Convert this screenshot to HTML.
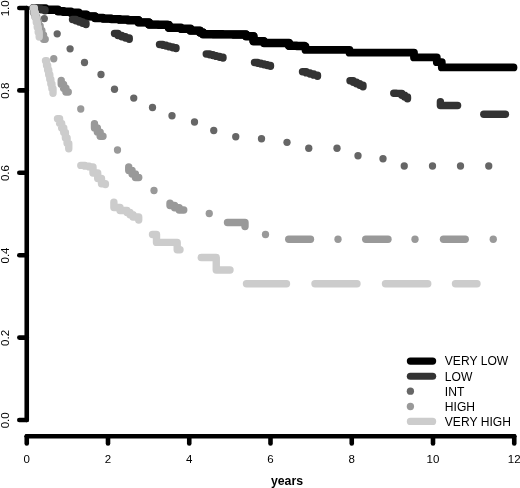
<!DOCTYPE html>
<html><head><meta charset="utf-8"><title>Survival curves</title>
<style>html,body{margin:0;padding:0;background:#fff}body{width:520px;height:488px;overflow:hidden}svg{display:block}text{font-family:"Liberation Sans",Arial,Helvetica,sans-serif;fill:#000}</style></head><body>
<svg width="520" height="488" viewBox="0 0 520 488">
<rect width="520" height="488" fill="#fff"/>
<defs><clipPath id="c"><rect x="0" y="4.4" width="520" height="484"/></clipPath></defs>
<g clip-path="url(#c)" fill="none" stroke-linecap="round" stroke-linejoin="round">
<path d="M33.4 8 L45 8 L45 9.8 L58 9.8 L58 11.2 L63.5 11.2 L63.5 11.8 L71 11.8 L71 12.8 L78.75 12.8 L78.75 14.6 L86.5 14.6 L86.5 16.4 L95 16.4 L95 18 L103 18 L103 18.6 L111.333 18.6 L111.333 19.1333 L119.667 19.1333 L119.667 19.6667 L128 19.6667 L128 20.2 L138.5 20.2 L138.5 22.4 L149 22.4 L149 24.6 L158.25 24.6 L158.25 24.8 L167.5 24.8 L167.5 25 L168.8 25 L168.8 27.8 L181 27.8 L181 28.8 L190.5 28.8 L190.5 30.65 L200 30.65 L200 32.5 L203 32.5 L203 34.2 L213 34.2 L213 34.3 L223 34.3 L223 34.4 L233 34.4 L233 34.5 L246 34.5 L246 36.2 L253.5 36.2 L253.5 41.2 L262 41.2 L262 41.3 L264 41.3 L264 43 L281.5 43 L289 43 L289 45.8 L296.75 45.8 L296.75 46.05 L304.5 46.05 L304.5 46.3 L305.5 46.3 L305.5 49.9 L348 49.9 L349.5 49.9 L349.5 52.7 L413 52.7 L414 52.7 L414 57.4 L436 57.4 L436.8 57.4 L436.8 62.2 L441 62.2 L441.8 62.2 L441.8 67.4 L513.5 67.4" stroke="#000" stroke-width="7.8"/>
<path d="M33.4 8 L45 8 L45 9.8 L58 9.8 L58 11.2 L63.5 11.2 L63.5 11.8 L71 11.8 L71 12.8 L78.75 12.8 L78.75 14.6 L86.5 14.6 L86.5 16.4 L95 16.4 L95 18 L103 18 L103 18.6 L111.333 18.6 L111.333 19.1333 L119.667 19.1333 L119.667 19.6667 L128 19.6667 L128 20.2 L138.5 20.2 L138.5 22.4 L149 22.4 L149 24.6 L158.25 24.6 L158.25 24.8 L167.5 24.8 L167.5 25 L168.8 25 L168.8 27.8 L181 27.8 L181 28.8 L190.5 28.8 L190.5 30.65 L200 30.65 L200 32.5 L203 32.5 L203 34.2 L213 34.2 L213 34.3 L223 34.3 L223 34.4 L233 34.4 L233 34.5 L246 34.5 L246 36.2 L253.5 36.2 L253.5 41.2 L262 41.2 L262 41.3 L264 41.3 L264 43 L281.5 43 L289 43 L289 45.8 L296.75 45.8 L296.75 46.05 L304.5 46.05 L304.5 46.3" stroke="#000" stroke-width="8.4"/>
<g stroke="#333333" stroke-width="7.4">
<path d="M33.4 8 L37.2667 8 L37.2667 8.9 L41.1333 8.9 L41.1333 9.8 L45 9.8 L45 10.7"/>
<path d="M72.5 19.5 L75.875 19.5 L75.875 20.75 L79.25 20.75 L79.25 22 L82.625 22 L82.625 23.25 L86 23.25 L86 24.5"/>
<path d="M114.5 33.5 L118 33.5 L118 35.5 L121.75 35.5 L121.75 36.75 L125.5 36.75 L125.5 38 L129.25 38 L129.25 39.25"/>
<path d="M159.5 44.5 L162.8 44.5 L162.8 45.3 L166.1 45.3 L166.1 46.1 L169.4 46.1 L169.4 46.9 L172.7 46.9 L172.7 47.7 L176 47.7 L176 48.5"/>
<path d="M206.25 54 L209.6 54 L209.6 54.8 L212.95 54.8 L212.95 55.6 L216.3 55.6 L216.3 56.4 L219.65 56.4 L219.65 57.2 L223 57.2 L223 58"/>
<path d="M254.5 62.5 L257.7 62.5 L257.7 63.25 L260.9 63.25 L260.9 64 L264.1 64 L264.1 64.75 L267.3 64.75 L267.3 65.5 L270.5 65.5 L270.5 66.25"/>
<path d="M302.5 71.75 L306.25 71.75 L306.25 72.875 L310 72.875 L310 74 L313.75 74 L313.75 75.125 L317.5 75.125 L317.5 76.25"/>
<path d="M350 80.75 L353.25 80.75 L353.25 82.25 L356.5 82.25 L356.5 83.75 L359.75 83.75 L359.75 85.25 L363 85.25 L363 86.75"/>
<path d="M393.75 93.25 L396.375 93.25 L396.375 93.375 L399 93.375 L399 93.5 L401.833 93.5 L401.833 95.25 L404.667 95.25 L404.667 97 L407.5 97 L407.5 98.75"/>
<path d="M440.4 101.7 L440.4 105.5 L457.6 105.5"/>
<path d="M483.8 114.2 L505.4 114.2"/>
</g>
<g fill="#666666" stroke="none">
<circle cx="44.3" cy="18.6" r="3.65"/>
<circle cx="57.2" cy="33.8" r="3.65"/>
<circle cx="70.1" cy="48.8" r="3.65"/>
<circle cx="84.5" cy="62.5" r="3.65"/>
<circle cx="101" cy="74.5" r="3.65"/>
<circle cx="114.5" cy="89.25" r="3.65"/>
<circle cx="133.75" cy="98.1" r="3.65"/>
<circle cx="152.5" cy="107.5" r="3.65"/>
<circle cx="172" cy="115.75" r="3.65"/>
<circle cx="194.5" cy="122" r="3.65"/>
<circle cx="213.75" cy="130.5" r="3.65"/>
<circle cx="235.75" cy="136.75" r="3.65"/>
<circle cx="261.5" cy="138.75" r="3.65"/>
<circle cx="287" cy="142.3" r="3.65"/>
<circle cx="308.75" cy="148.25" r="3.65"/>
<circle cx="337" cy="148.25" r="3.65"/>
<circle cx="358" cy="155.75" r="3.65"/>
<circle cx="383" cy="158.75" r="3.65"/>
<circle cx="404.25" cy="166" r="3.65"/>
<circle cx="432.5" cy="166" r="3.65"/>
<circle cx="460.5" cy="166" r="3.65"/>
<circle cx="488.75" cy="166" r="3.65"/>
</g>
<g stroke="#999999" stroke-width="7.4">
<path d="M33.4 8 L33.4 12.4714 L35.0857 12.4714 L35.0857 16.9429 L36.7714 16.9429 L36.7714 21.4143 L38.4571 21.4143 L38.4571 25.8857 L40.1429 25.8857 L40.1429 30.3571 L41.8286 30.3571 L41.8286 34.8286 L43.5143 34.8286 L43.5143 39.3 L45.2 39.3"/>
<path d="M61.25 80.5 L61.25 84.3333 L63.5833 84.3333 L63.5833 88.1667 L65.9167 88.1667 L65.9167 92 L68.25 92"/>
<path d="M94.5 123.75 L94.5 127.917 L97.3333 127.917 L97.3333 132.083 L100.167 132.083 L100.167 136.25 L103 136.25"/>
<path d="M128.75 167 L128.75 170.5 L132.083 170.5 L132.083 174 L135.417 174 L135.417 177.5 L138.75 177.5"/>
<path d="M170 203.25 L170 205.5 L174.583 205.5 L174.583 207.75 L179.167 207.75 L179.167 210 L183.75 210"/>
<path d="M227.5 222.5 L245 222.5 L245 226.5"/>
<path d="M288.75 239.25 L310.5 239.25"/>
<path d="M365.75 239.25 L388 239.25"/>
<path d="M443.5 239.25 L465.25 239.25"/>
</g>
<g fill="#999999" stroke="none">
<circle cx="53.75" cy="58.75" r="3.65"/>
<circle cx="80.75" cy="109" r="3.65"/>
<circle cx="117.5" cy="150" r="3.65"/>
<circle cx="154" cy="190.5" r="3.65"/>
<circle cx="209.25" cy="213.5" r="3.65"/>
<circle cx="265.5" cy="234.5" r="3.65"/>
<circle cx="338" cy="239.25" r="3.65"/>
<circle cx="415" cy="239.25" r="3.65"/>
<circle cx="493.25" cy="239.25" r="3.65"/>
</g>
<g stroke="#cccccc" stroke-width="7.4">
<path d="M33.4 8 L34.3667 8 L34.3667 12.8333 L35.3333 12.8333 L35.3333 17.6667 L36.3 17.6667 L36.3 22.5 L37.2667 22.5 L37.2667 27.3333 L38.2333 27.3333 L38.2333 32.1667 L39.2 32.1667 L39.2 37"/>
<path d="M45.5 60.75 L46.5714 60.75 L46.5714 65.4 L47.6429 65.4 L47.6429 70.05 L48.7143 70.05 L48.7143 74.7 L49.7857 74.7 L49.7857 79.35 L50.8571 79.35 L50.8571 84 L51.9286 84 L51.9286 88.65 L53 88.65 L53 93.3"/>
<path d="M57.5 118.75 L59.5833 118.75 L59.5833 123.333 L61.6667 123.333 L61.6667 127.917 L63.75 127.917 L63.75 132.5 L65.4167 132.5 L65.4167 137.917 L67.0833 137.917 L67.0833 143.333 L68.75 143.333 L68.75 148.75"/>
<path d="M80.8 165.4 L85 165.4 L85 166.15 L89.2 166.15 L89.2 166.9 L93 166.9 L93 173 L97.7 173 L97.7 178.5 L101.5 178.5 L101.5 183.8 L105.4 183.8 L105.4 184.6"/>
<path d="M113.9 202.2 L113.9 207.5 L120 207.5 L120 210.5 L127 210.5 L127 212.5 L130 212.5 L130 214.75 L133 214.75 L133 217 L138.7 217 L138.7 220"/>
<path d="M152.5 234.5 L156.5 234.5 L156.5 235.5 L156.5 242.4 L177.2 242.4 L177.2 249.7 L180 249.7 L180 249.8"/>
<path d="M201.25 257.5 L216.25 257.5 L216.25 270 L230 270"/>
<path d="M246.5 283.75 L286.5 283.75"/>
<path d="M315 283.75 L357 283.75"/>
<path d="M385.5 283.75 L427.75 283.75"/>
<path d="M455.5 283.75 L477 283.75"/>
</g>
</g>
<g stroke="#000" stroke-width="4.6" stroke-linecap="round" fill="none">
<path d="M26.75 8 V420"/>
<path d="M26.75 8 H19.3"/>
<path d="M26.75 90.4 H19.3"/>
<path d="M26.75 172.8 H19.3"/>
<path d="M26.75 255.2 H19.3"/>
<path d="M26.75 337.6 H19.3"/>
<path d="M26.75 420 H19.3"/>
<path d="M26.75 436.3 H514.25"/>
<path d="M26.75 436.3 V443.5"/>
<path d="M108 436.3 V443.5"/>
<path d="M189.25 436.3 V443.5"/>
<path d="M270.5 436.3 V443.5"/>
<path d="M351.75 436.3 V443.5"/>
<path d="M433 436.3 V443.5"/>
<path d="M514.25 436.3 V443.5"/>
</g>
<g font-size="11.5" text-anchor="middle">
<text transform="translate(9.2 8.3) rotate(-90)">1.0</text>
<text transform="translate(9.2 90.7) rotate(-90)">0.8</text>
<text transform="translate(9.2 173.1) rotate(-90)">0.6</text>
<text transform="translate(9.2 255.5) rotate(-90)">0.4</text>
<text transform="translate(9.2 337.9) rotate(-90)">0.2</text>
<text transform="translate(9.2 420.3) rotate(-90)">0.0</text>
<text x="26.75" y="463.2">0</text>
<text x="108" y="463.2">2</text>
<text x="189.25" y="463.2">4</text>
<text x="270.5" y="463.2">6</text>
<text x="351.75" y="463.2">8</text>
<text x="433" y="463.2">10</text>
<text x="514.25" y="463.2">12</text>
</g>
<text x="287" y="484.8" font-size="12.3" font-weight="bold" text-anchor="middle">years</text>
<g font-size="12.1">
<path d="M410.4 361.1 H432.6" stroke="#000" stroke-width="7.2" stroke-linecap="round"/>
<text x="444.8" y="365.4">VERY LOW</text>
<path d="M410.4 376.25 H432.6" stroke="#333333" stroke-width="7.2" stroke-linecap="round"/>
<text x="444.8" y="380.55">LOW</text>
<circle cx="410.4" cy="391.2" r="3.65" fill="#666666"/>
<text x="444.8" y="395.5">INT</text>
<circle cx="410.4" cy="406.5" r="3.65" fill="#999999"/>
<text x="444.8" y="410.8">HIGH</text>
<path d="M410.4 421.4 H432.6" stroke="#cccccc" stroke-width="7.2" stroke-linecap="round"/>
<text x="444.8" y="425.7">VERY HIGH</text>
</g>
</svg></body></html>
